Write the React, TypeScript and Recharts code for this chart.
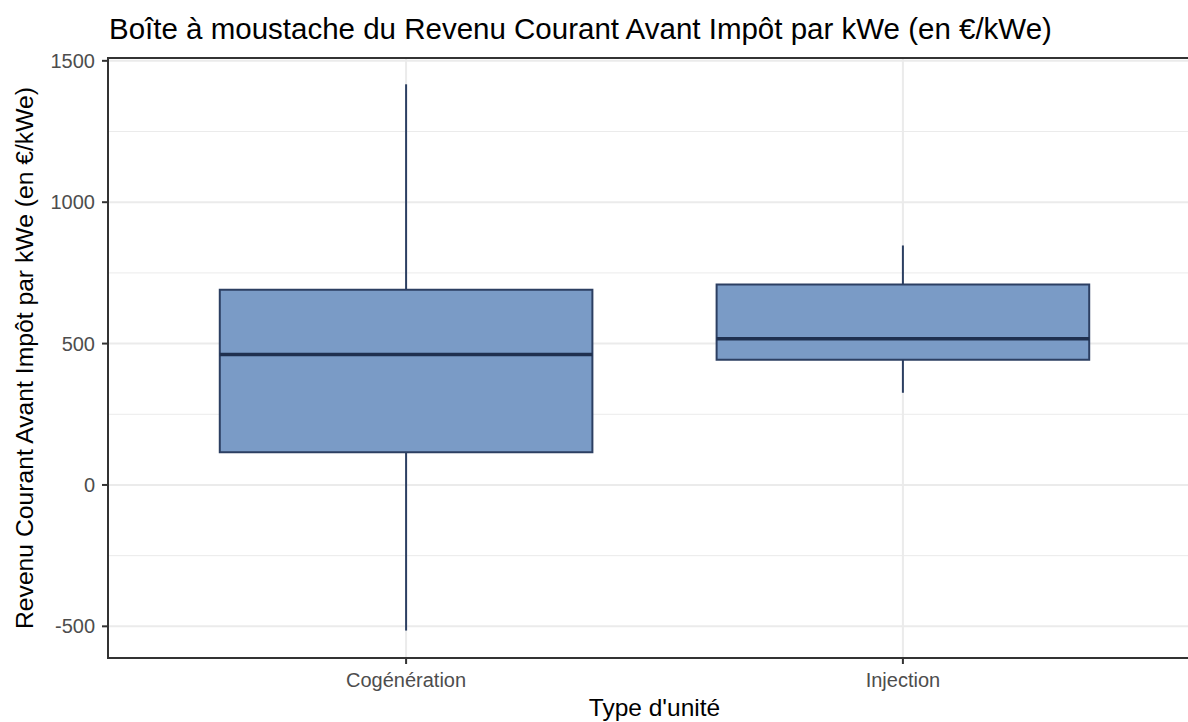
import React from 'react';
import {
  ComposedChart,
  XAxis,
  YAxis,
  CartesianGrid,
  ReferenceArea,
  ReferenceLine,
  Customized,
} from 'recharts';

const categories = ['Cogénération', 'Injection'];
const positions = [1, 2];
const whiskerLow = [-515, 326];
const q1 = [116, 443];
const median = [461, 517];
const q3 = [690, 709];
const whiskerHigh = [1417, 847];

const yTicks = [-500, 0, 500, 1000, 1500];
const yMinor = [-250, 250, 750, 1250];

const title = 'Boîte à moustache du Revenu Courant Avant Impôt par kWe (en €/kWe)';
const xTitle = "Type d'unité";
const yTitle = 'Revenu Courant Avant Impôt par kWe (en €/kWe)';

const FONT = '"Liberation Sans", Arial, sans-serif';
const BOX_FILL = '#7A9BC6';
const BOX_STROKE = '#2C3F62';
const MEDIAN_STROKE = '#1F304F';
const GRID = '#EBEBEB';
const BORDER = '#333333';

const rows = categories.map((c, i) => ({
  name: c,
  pos: positions[i],
  low: whiskerLow[i],
  q1: q1[i],
  median: median[i],
  q3: q3[i],
  high: whiskerHigh[i],
}));

const HALF = 0.375;
const X_DOMAIN: [number, number] = [0.4, 2.6];
const Y_DOMAIN: [number, number] = [-612, 1510];

export default function App() {
  return (
    <div
      style={{
        position: 'absolute',
        left: 0,
        top: 0,
        width: 1188,
        height: 722,
        overflow: 'hidden',
        background: '#fff',
        fontFamily: FONT,
      }}
    >
      <ComposedChart
        width={1212}
        height={722}
        data={rows}
        margin={{ top: 58, right: 11, bottom: 0, left: 0 }}
      >
        <CartesianGrid
          stroke={GRID}
          strokeWidth={1}
          horizontalValues={yMinor}
          vertical={false}
        />
        <CartesianGrid
          stroke={GRID}
          strokeWidth={2}
          horizontalValues={yTicks}
          verticalValues={positions}
        />
        <XAxis
          type="number"
          dataKey="pos"
          domain={X_DOMAIN}
          allowDataOverflow
          ticks={positions}
          tickFormatter={(v: number) => categories[v - 1] ?? ''}
          height={64}
          axisLine={false}
          tickLine={{ stroke: BORDER, strokeWidth: 2 }}
          tickSize={6}
          tickMargin={9}
          tick={{ fill: '#4D4D4D', fontSize: 20, fontFamily: FONT }}
          label={({ viewBox }: any) => (
            <text
              x={viewBox.x + viewBox.width / 2}
              y={viewBox.y + 58}
              textAnchor="middle"
              fontSize={24.5}
              fontFamily={FONT}
              fill="#000"
            >
              {xTitle}
            </text>
          )}
        />
        <YAxis
          type="number"
          domain={Y_DOMAIN}
          allowDataOverflow
          ticks={yTicks}
          width={108}
          axisLine={false}
          tickLine={{ stroke: BORDER, strokeWidth: 2 }}
          tickSize={6}
          tickMargin={7}
          tick={{ fill: '#4D4D4D', fontSize: 20, fontFamily: FONT }}
          label={({ viewBox }: any) => {
            const x = viewBox.x + 33;
            const y = viewBox.y + viewBox.height / 2;
            return (
              <text
                x={x}
                y={y}
                transform={`rotate(-90, ${x}, ${y})`}
                textAnchor="middle"
                fontSize={24.7}
                fontFamily={FONT}
                fill="#000"
              >
                {yTitle}
              </text>
            );
          }}
        />
        {rows.map((r) => (
          <ReferenceLine
            key={`wh-${r.name}`}
            segment={[
              { x: r.pos, y: r.q3 },
              { x: r.pos, y: r.high },
            ]}
            stroke={BOX_STROKE}
            strokeWidth={2}
          />
        ))}
        {rows.map((r) => (
          <ReferenceLine
            key={`wl-${r.name}`}
            segment={[
              { x: r.pos, y: r.low },
              { x: r.pos, y: r.q1 },
            ]}
            stroke={BOX_STROKE}
            strokeWidth={2}
          />
        ))}
        {rows.map((r) => (
          <ReferenceArea
            key={`box-${r.name}`}
            x1={r.pos - HALF}
            x2={r.pos + HALF}
            y1={r.q1}
            y2={r.q3}
            fill={BOX_FILL}
            fillOpacity={1}
            stroke={BOX_STROKE}
            strokeWidth={2}
          />
        ))}
        {rows.map((r) => (
          <ReferenceLine
            key={`med-${r.name}`}
            segment={[
              { x: r.pos - HALF, y: r.median },
              { x: r.pos + HALF, y: r.median },
            ]}
            stroke={MEDIAN_STROKE}
            strokeWidth={3.5}
          />
        ))}
        <ReferenceArea
          x1={X_DOMAIN[0]}
          x2={X_DOMAIN[1]}
          y1={Y_DOMAIN[0]}
          y2={Y_DOMAIN[1]}
          fill="none"
          fillOpacity={0}
          stroke={BORDER}
          strokeWidth={2}
        />
        <Customized
          component={() => (
            <text x={109} y={39} fontSize={29.5} fontFamily={FONT} fill="#000">
              {title}
            </text>
          )}
        />
      </ComposedChart>
    </div>
  );
}
